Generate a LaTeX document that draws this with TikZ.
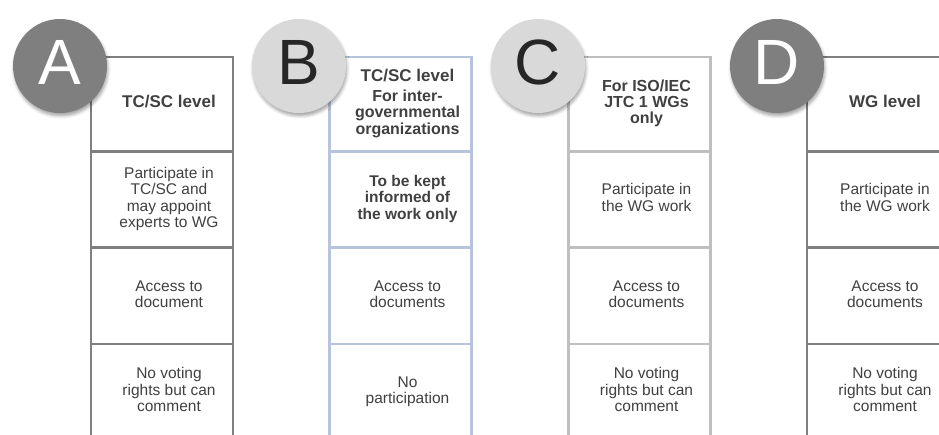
\documentclass[tikz,border=0pt]{standalone}
\usepackage{fontspec}
\setmainfont{Liberation Sans}
\usepackage{xcolor}
\usepackage{tikz}
\definecolor{darkgrey}{HTML}{7F7F7F}
\definecolor{lightgrey}{HTML}{D9D9D9}
\definecolor{paleline}{HTML}{BFBFBF}
\definecolor{blueline}{HTML}{B8C4DB}
\definecolor{textgrey}{HTML}{404040}
\definecolor{letterdark}{HTML}{262626}
\usetikzlibrary{shapes,shadows.blur}
\newcommand\celltext[1]{\hspace*{14pt}\begin{tabular}{@{}c@{}}#1\end{tabular}}

\begin{document}
\begin{tikzpicture}[x=1pt, y=-1pt,
    cell/.style={rectangle, draw, line width=2.5pt, minimum width=142pt, minimum height=96pt, inner sep=0pt, text=textgrey,
        font=\fontsize{15.5}{16.5}\selectfont},
    head/.style={cell, minimum height=94pt, font=\bfseries\fontsize{16}{15.5}\selectfont},
    colA/.style={draw=darkgrey},
    colB/.style={draw=blueline},
    colC/.style={draw=paleline},
    colD/.style={draw=darkgrey},
    badge/.style={circle, minimum size=94pt, inner sep=0pt, text depth=8pt, font=\fontsize{64}{64}\selectfont,
        blur shadow={shadow xshift=1pt, shadow yshift=-3pt, shadow blur radius=3pt, shadow opacity=35}},
    darkbadge/.style={badge, fill=darkgrey, text=white},
    lightbadge/.style={badge, fill=lightgrey, text=letterdark}
]
    \clip (0,0) rectangle (939,434);

    % Column A
    \node[head, colA] (a1) at (162,104) {\celltext{\fontsize{17}{19}\selectfont TC/SC level}};
    \node[cell, colA] (a2) at (162,199.5) {\celltext{Participate in\\TC/SC and\\may appoint\\experts to WG}};
    \node[cell, colA] (a3) at (162,296) {\celltext{Access to\\document}};
    \node[cell, colA] (a4) at (162,392) {\celltext{No voting\\rights but can\\comment}};

    % Column B
    \node[head, colB] (b1) at (400.5,104) {\celltext{\fontsize{17}{19}\selectfont TC/SC level\\[4pt]For inter-\\governmental\\organizations}};
    \node[cell, colB, font=\bfseries\fontsize{15.5}{16.5}\selectfont] (b2) at (400.5,199.5) {\celltext{To be kept\\informed of\\the work only}};
    \node[cell, colB] (b3) at (400.5,296) {\celltext{Access to\\documents}};
    \node[cell, colB] (b4) at (400.5,392) {\celltext{No\\participation}};

    % Column C
    \node[head, colC] (c1) at (639.5,104) {\celltext{For ISO/IEC\\JTC 1 WGs\\only}};
    \node[cell, colC] (c2) at (639.5,199.5) {\celltext{Participate in\\the WG work}};
    \node[cell, colC] (c3) at (639.5,296) {\celltext{Access to\\documents}};
    \node[cell, colC] (c4) at (639.5,392) {\celltext{No voting\\rights but can\\comment}};

    % Column D
    \node[head, colD] (d1) at (878,104) {\celltext{\fontsize{17}{19}\selectfont WG level}};
    \node[cell, colD] (d2) at (878,199.5) {\celltext{Participate in\\the WG work}};
    \node[cell, colD] (d3) at (878,296) {\celltext{Access to\\documents}};
    \node[cell, colD] (d4) at (878,392) {\celltext{No voting\\rights but can\\comment}};

    % Letter badges
    \node[darkbadge] (badgeA) at (60,66) {A};
    \node[lightbadge] (badgeB) at (299,66) {B};
    \node[lightbadge] (badgeC) at (538,66) {C};
    \node[darkbadge] (badgeD) at (777,66) {D};
\end{tikzpicture}
\end{document}
